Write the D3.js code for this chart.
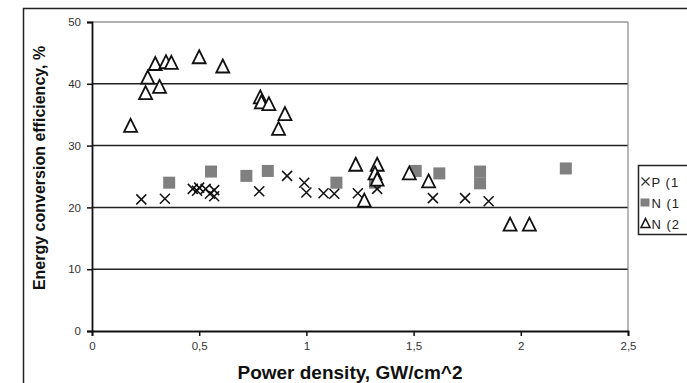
<!DOCTYPE html>
<html><head><meta charset="utf-8">
<script src="https://cdn.jsdelivr.net/npm/d3@7"></script>
<style>html,body{margin:0;padding:0;background:#fff;overflow:hidden}</style>
</head><body>
<svg id="c" width="687" height="383"></svg>
<script>
// Data
const xTicks = [0, 0.5, 1, 1.5, 2, 2.5];
const xTickLabels = ["0", "0,5", "1", "1,5", "2", "2,5"];
const yTicks = [0, 10, 20, 30, 40, 50];
const seriesNames = ["P (1", "N (1", "N (2"];
const pX = [0.23, 0.34, 0.47, 0.49, 0.50, 0.53, 0.55, 0.57, 0.57, 0.78, 0.91, 0.99, 1.00, 1.08, 1.13, 1.24, 1.33, 1.59, 1.74, 1.85];
const pY = [21.3, 21.4, 23.0, 22.7, 23.2, 23.0, 22.2, 21.8, 22.8, 22.6, 25.1, 24.0, 22.4, 22.3, 22.2, 22.3, 23.0, 21.5, 21.5, 21.0];
const n1X = [0.36, 0.555, 0.72, 0.82, 1.14, 1.32, 1.51, 1.62, 1.81, 1.81, 2.21];
const n1Y = [24.0, 25.8, 25.1, 25.9, 24.0, 24.0, 25.9, 25.5, 25.8, 23.9, 26.3];
const n2X = [0.18, 0.25, 0.26, 0.295, 0.315, 0.345, 0.37, 0.50, 0.61, 0.785, 0.79, 0.825, 0.87, 0.90, 1.23, 1.27, 1.33, 1.32, 1.33, 1.48, 1.57, 1.95, 2.04];
const n2Y = [33.2, 38.5, 41.0, 43.2, 39.5, 43.5, 43.4, 44.3, 42.8, 37.8, 37.0, 36.7, 32.7, 35.1, 26.9, 21.1, 26.9, 25.5, 24.5, 25.5, 24.2, 17.2, 17.2];

const svg = d3.select("#c");
const x = d3.scaleLinear().domain([0, 2.5]).range([92, 628]);
const y = d3.scaleLinear().domain([0, 50]).range([331, 22]);
const font = "Arial, 'Liberation Sans', sans-serif";

// outer frame
svg.append("path").attr("d", "M23.5,390 L23.5,8.5 L700,8.5")
  .attr("fill", "none").attr("stroke", "#222").attr("stroke-width", 1.5);

// gridlines
svg.append("g").selectAll("line").data(yTicks.filter(d => d > 0)).join("line")
  .attr("x1", x(0)).attr("x2", x(2.5))
  .attr("y1", d => y(d)).attr("y2", d => y(d))
  .attr("stroke", d => d === 50 ? "#999" : "#222").attr("stroke-width", 1.5);
// right border of plot
svg.append("line").attr("x1", x(2.5)).attr("x2", x(2.5)).attr("y1", y(50)).attr("y2", y(0))
  .attr("stroke", "#888").attr("stroke-width", 1.2);

// axes
const yAxis = d3.axisLeft(y).tickValues(yTicks).tickSize(5).tickPadding(6).tickFormat(d3.format("d"));
const gy = svg.append("g").attr("transform", `translate(${x(0)},0)`).call(yAxis);
const xAxis = d3.axisBottom(x).tickValues(xTicks).tickSize(5).tickPadding(6).tickFormat((d, i) => xTickLabels[i]);
const gx = svg.append("g").attr("transform", `translate(0,${y(0)})`).call(xAxis);
[gx, gy].forEach(g => {
  g.select(".domain").attr("stroke", "#111").attr("stroke-width", 1.8);
  g.selectAll(".tick line").attr("stroke", "#111").attr("stroke-width", 1.5);
  g.selectAll(".tick text").attr("font-family", font).attr("font-size", 11.5).attr("fill", "#333");
});

// axis titles
svg.append("text").attr("x", 350).attr("y", 379).attr("text-anchor", "middle")
  .attr("font-family", font).attr("font-weight", "bold").attr("font-size", 19).attr("fill", "#111")
  .text("Power density, GW/cm^2");
svg.append("text").attr("transform", "translate(45,168) rotate(-90)").attr("text-anchor", "middle")
  .attr("font-family", font).attr("font-weight", "bold").attr("font-size", 16).attr("fill", "#111")
  .text("Energy conversion efficiency, %");

// markers
const triPath = "M0,-7 L6.5,6 L-6.5,6 Z";
const xPath = "M-5,-5 L5,5 M-5,5 L5,-5";
const sq = 12;

svg.append("g").selectAll("rect").data(n1X.map((v, i) => [v, n1Y[i]])).join("rect")
  .attr("x", d => x(d[0]) - sq / 2).attr("y", d => y(d[1]) - sq / 2)
  .attr("width", sq).attr("height", sq).attr("fill", "#808080");

svg.append("g").selectAll("path").data(pX.map((v, i) => [v, pY[i]])).join("path")
  .attr("transform", d => `translate(${x(d[0])},${y(d[1])})`)
  .attr("d", xPath).attr("fill", "none").attr("stroke", "#111").attr("stroke-width", 1.5);

svg.append("g").selectAll("path").data(n2X.map((v, i) => [v, n2Y[i]])).join("path")
  .attr("transform", d => `translate(${x(d[0])},${y(d[1])})`)
  .attr("d", triPath).attr("fill", "#fff").attr("stroke", "#111").attr("stroke-width", 1.8);

// legend
const lg = svg.append("g").attr("transform", "translate(638.5,165.5)");
lg.append("rect").attr("width", 80).attr("height", 69).attr("fill", "#fff")
  .attr("stroke", "#222").attr("stroke-width", 1.5);
const ly = [16, 37, 58];
lg.append("path").attr("transform", `translate(7,${ly[0]})`).attr("d", "M-4,-4 L4,4 M-4,4 L4,-4")
  .attr("stroke", "#333").attr("stroke-width", 1.2).attr("fill", "none");
lg.append("rect").attr("x", 2).attr("y", ly[1] - 4).attr("width", 9).attr("height", 8).attr("fill", "#808080");
lg.append("path").attr("transform", `translate(7,${ly[2]})`).attr("d", "M0,-5 L4.5,4 L-4.5,4 Z")
  .attr("stroke", "#111").attr("stroke-width", 1.5).attr("fill", "#fff");
lg.selectAll("text.l").data(seriesNames).join("text").attr("class", "l")
  .attr("x", 13).attr("y", (d, i) => ly[i] + 5)
  .attr("font-family", font).attr("font-size", 13).attr("letter-spacing", 1).attr("fill", "#222")
  .text(d => d);
</script>
</body></html>
